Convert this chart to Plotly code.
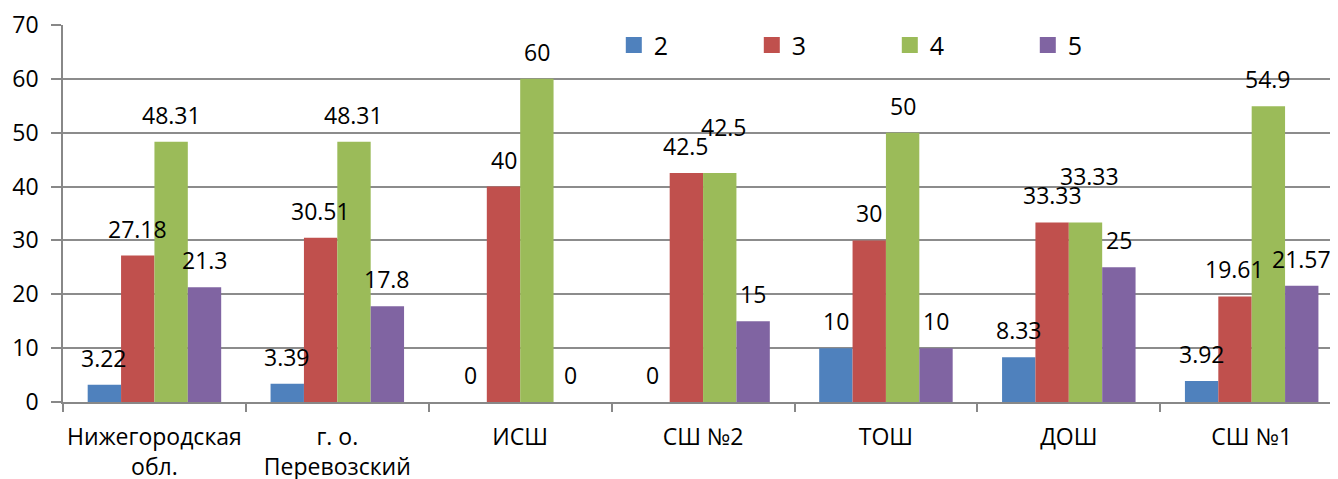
import plotly.graph_objects as go

categories = ["Нижегородская<br>обл.", "г. о.<br>Перевозский", "ИСШ", "СШ №2", "ТОШ", "ДОШ", "СШ №1"]
series_names = ["2", "3", "4", "5"]
grade2 = [3.22, 3.39, 0, 0, 10, 8.33, 3.92]
grade3 = [27.18, 30.51, 40, 42.5, 30, 33.33, 19.61]
grade4 = [48.31, 48.31, 60, 42.5, 50, 33.33, 54.9]
grade5 = [21.3, 17.8, 0, 15, 10, 25, 21.57]
y_ticks = [0, 10, 20, 30, 40, 50, 60, 70]

series = [grade2, grade3, grade4, grade5]
colors = ["#4F81BD", "#C0504D", "#9BBB59", "#8064A2"]

FONT = "Open Sans"
# the page body has an 8px margin, so the figure is sized to end at the window edge
W, H = 1330, 471
ML, MR, MT, MB = 55, 0, 17, 77
BARGAP = 0.27
x_lo, x_hi = -0.5, 6.472
cat_px = (W - ML - MR) / (x_hi - x_lo)
bar_px = cat_px * (1 - BARGAP) / len(series)

fig = go.Figure()
for name, vals, col in zip(series_names, series, colors):
    fig.add_trace(go.Bar(
        name=name, x=categories, y=vals, showlegend=False,
        marker=dict(color=col, line=dict(width=0)),
    ))
# legend entries with larger square swatches
for name, col in zip(series_names, colors):
    fig.add_trace(go.Scatter(
        name=name, x=[None], y=[None], mode="markers",
        marker=dict(symbol="square", size=16, color=col),
        showlegend=True, hoverinfo="skip",
    ))

annotations = []
for si, vals in enumerate(series):
    for ci, v in enumerate(vals):
        extra_y = 0
        extra_x = 0
        # Excel nudges a label that collides with its neighbour's identical label
        if si == 2 and grade3[ci] == v:
            extra_y = 19
            extra_x = 4
        annotations.append(dict(
            x=categories[ci], y=v, xref="x", yref="y",
            text=f"{v:g}", showarrow=False,
            xshift=(si - 1.5) * bar_px + extra_x,
            yshift=27 + extra_y, yanchor="middle", xanchor="center",
            font=dict(family=FONT, size=23, color="#000000"),
        ))

fig.update_layout(
    width=W, height=H,
    margin=dict(l=ML, r=MR, t=MT, b=MB, pad=0, autoexpand=False),
    paper_bgcolor="white", plot_bgcolor="white",
    barmode="group", bargap=BARGAP, bargroupgap=0,
    annotations=annotations,
    showlegend=True,
    legend=dict(
        orientation="h", x=0.432, y=1.007, xanchor="left", yanchor="top",
        font=dict(family=FONT, size=25, color="#000000"),
        entrywidth=93, entrywidthmode="pixels",
        bgcolor="rgba(0,0,0,0)", itemclick=False, tracegroupgap=0,
    ),
    xaxis=dict(
        type="category", range=[x_lo, x_hi], automargin=False,
        showline=True, linecolor="#888888", linewidth=1.5,
        ticks="outside", tickson="boundaries", ticklen=8,
        tickcolor="#888888", tickwidth=1.5,
        showgrid=False, tickangle=0,
        tickfont=dict(family=FONT, size=23, color="#000000"),
        ticklabelstandoff=14,
    ),
    yaxis=dict(
        range=[0, 70], tickvals=y_ticks, automargin=False,
        showline=True, linecolor="#888888", linewidth=1.5,
        ticks="outside", ticklen=10, tickcolor="#888888", tickwidth=1.5,
        showgrid=True, gridcolor="#8c8c8c", gridwidth=1.5,
        zeroline=False,
        tickfont=dict(family=FONT, size=23, color="#000000"),
        ticklabelstandoff=8,
    ),
)

fig.write_html("out.html")
